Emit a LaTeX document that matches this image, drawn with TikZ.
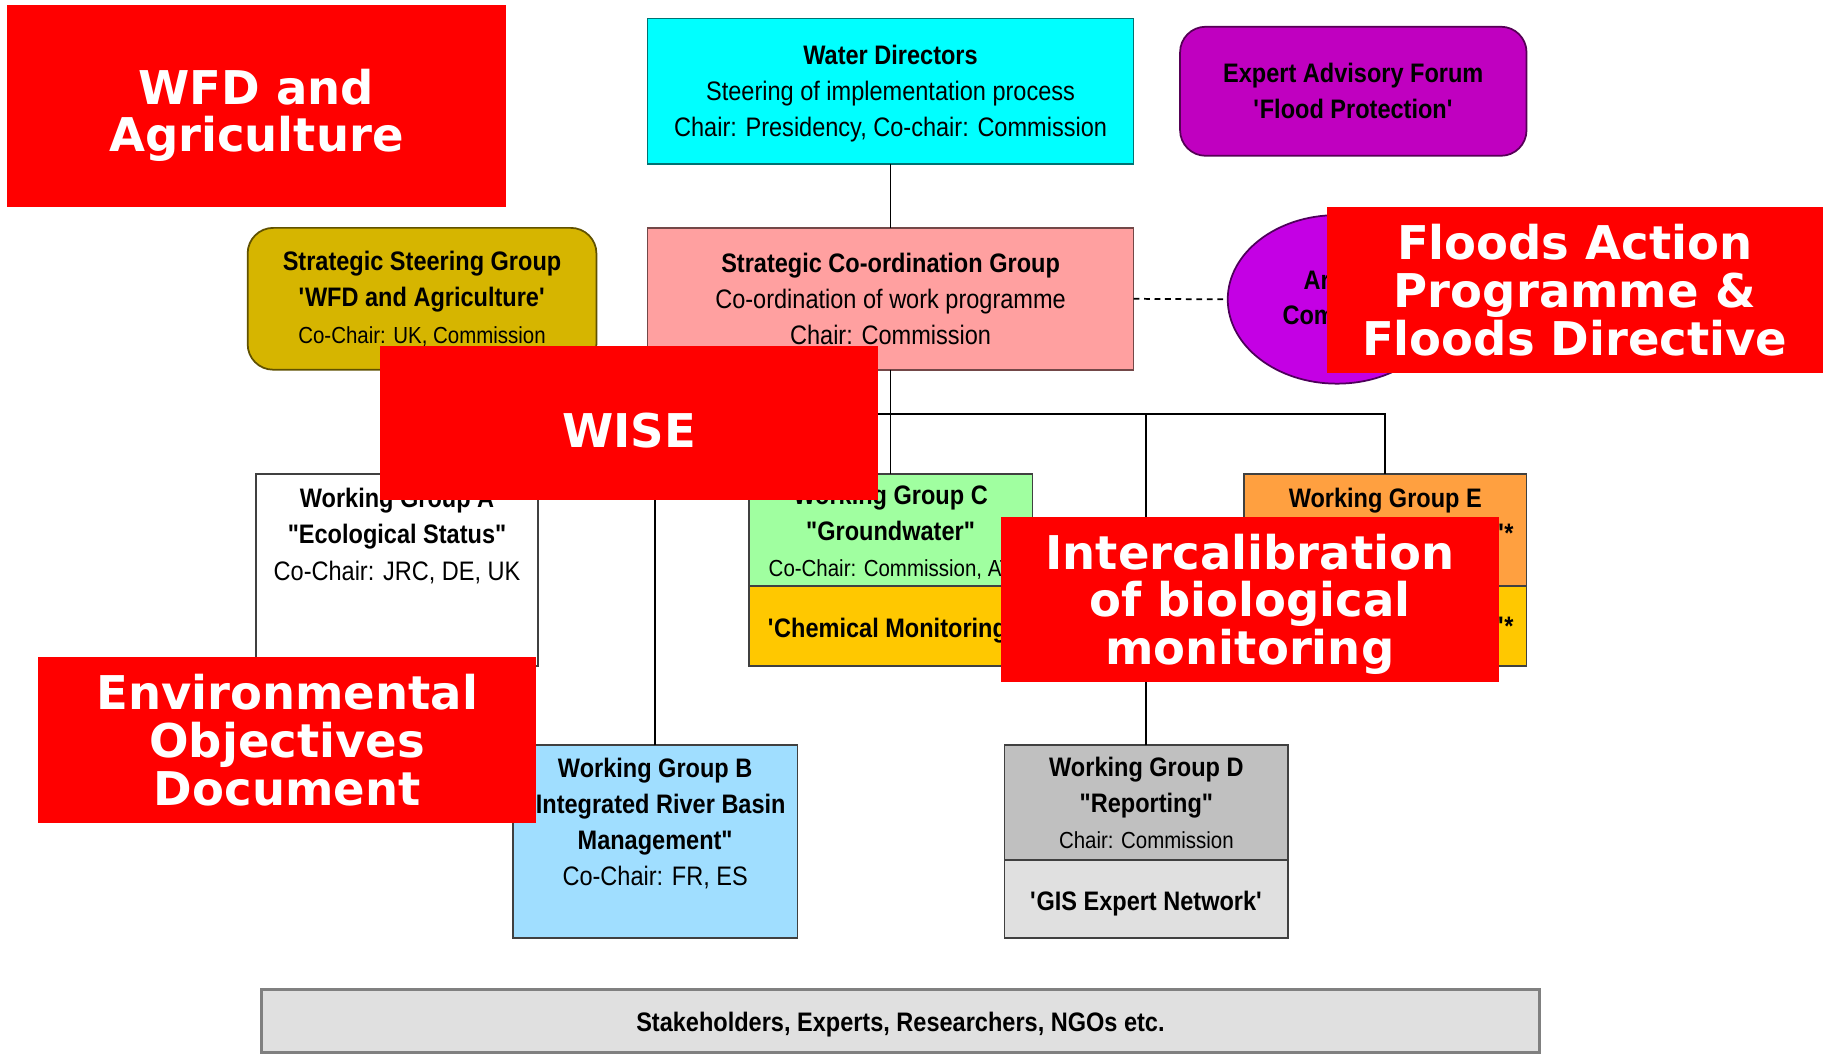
\documentclass[tikz,border=0pt]{standalone}
\usepackage{fontspec}
\usetikzlibrary{positioning,shapes.geometric}

\newfontfamily\grpfamily[FakeStretch=0.88]{Liberation Sans}
\newfontfamily\tagfamily{DejaVu Sans}
\newcommand{\grpfont}{\grpfamily\fontsize{23}{31}\selectfont}
\newcommand{\grpsmall}{\fontsize{20}{31}\selectfont}
\newcommand{\tagfont}{\tagfamily\bfseries\fontsize{40}{41}\selectfont}
\newcommand{\sqm}{\textquotesingle}

\definecolor{wdcyan}{RGB}{0,255,255}
\definecolor{forumpurple}{RGB}{192,0,192}
\definecolor{artviolet}{RGB}{196,0,228}
\definecolor{ssggold}{RGB}{214,181,0}
\definecolor{scgpink}{RGB}{255,160,160}
\definecolor{wgbblue}{RGB}{160,222,255}
\definecolor{wgcgreen}{RGB}{160,255,160}
\definecolor{wgyellow}{RGB}{255,200,0}
\definecolor{wgeorange}{RGB}{255,160,64}
\definecolor{wgdgray}{RGB}{192,192,192}
\definecolor{boxgray}{RGB}{224,224,224}

\tikzset{
  grp/.style={draw=black!75, line width=1.5pt, inner sep=0pt, outer sep=0pt, anchor=north west, align=center, font=\grpfont},
  grptext/.style={inner sep=0pt, align=center, font=\grpfont},
  oneline/.style={text height=19pt, text depth=0pt},
  textdrop/.style={text height=#1, text depth=0pt},
  redtag/.style={fill=red, inner sep=0pt, outer sep=0pt, anchor=north west, align=center, text=white, font=\tagfont},
  wire/.style={line width=1.5pt}
}

\begin{document}
\begin{tikzpicture}[x=1pt,y=-1pt]
\useasboundingbox (0,0) rectangle (1568,907);

% top row
\node[grp, fill=wdcyan, draw=wdcyan!45!black, minimum width=418, minimum height=125, textdrop=78pt] (wd) at (557,16)
  {{\bfseries Water Directors}\\Steering of implementation process\\Chair: Presidency, Co-chair: Commission};
\node[grp, fill=forumpurple, draw=forumpurple!45!black, rounded corners=22pt, minimum width=298, minimum height=111] (eaf) at (1015,23)
  {\bfseries Expert Advisory Forum\\\bfseries \sqm Flood Protection\sqm};

% second row
\node[grp, fill=ssggold, draw=ssggold!45!black, rounded corners=22pt, minimum width=300, minimum height=122] (ssg) at (213,196)
  {{\bfseries Strategic Steering Group}\\{\bfseries \sqm WFD and Agriculture\sqm}\\{\grpsmall Co-Chair: UK, Commission}};
\node[grp, fill=scgpink, draw=scgpink!45!black, minimum width=418, minimum height=122] (scg) at (557,196)
  {{\bfseries Strategic Co-ordination Group}\\Co-ordination of work programme\\Chair: Commission};
\node[ellipse, draw=artviolet!40!black, line width=1.5pt, fill=artviolet, inner sep=0pt, minimum width=188, minimum height=145] (art) at (1150,257.5) {};
\node[grptext, anchor=base west, font=\grpfont\bfseries] (artline) at (1121,249) {Ar};
\node[grptext, anchor=base west, font=\grpfont\bfseries] (artlinetwo) at (1103,279) {Com};

% working groups
\node[grp, fill=white, minimum width=243, minimum height=165] (wga) at (220,408) {};
\node[grptext, below=12pt of wga.north] (wgatext)
  {{\bfseries Working Group A}\\{\bfseries "Ecological Status"}\\Co-Chair: JRC, DE, UK};

\node[grp, fill=wgcgreen, minimum width=244, minimum height=96, textdrop=80.5pt] (wgc) at (644,408)
  {{\bfseries Working Group C}\\{\bfseries "Groundwater"}\\{\grpsmall Co-Chair: Commission, AT}};
\node[grp, oneline, fill=wgyellow, minimum width=244, minimum height=69, below=0pt of wgc] (wgcmon)
  {\bfseries \sqm Chemical Monitoring\sqm};

\node[grp, fill=wgeorange, minimum width=243, minimum height=96] (wge) at (1070,408) {};
\node[grptext, below=12pt of wge.north, font=\grpfont\bfseries] (wgetext) {Working Group E};
\node[grptext, anchor=base east, font=\grpfont\bfseries] (wgetail) at (1302,467) {"*};
\node[grp, fill=wgyellow, minimum width=243, minimum height=69, below=0pt of wge] (wgemon) {};
\node[grptext, anchor=base east, font=\grpfont\bfseries] (wgemontail) at (1302,547) {\sqm*};

\node[grp, fill=wgbblue, minimum width=245, minimum height=166] (wgb) at (441,641) {};
\node[grptext, below=11pt of wgb.north] (wgbtext)
  {{\bfseries Working Group B}\\{\bfseries "Integrated River Basin}\\{\bfseries Management"}\\Co-Chair: FR, ES};

\node[grp, fill=wgdgray, minimum width=244, minimum height=99] (wgd) at (864,641)
  {{\bfseries Working Group D}\\{\bfseries "Reporting"}\\{\grpsmall Chair: Commission}};
\node[grp, oneline, fill=boxgray, minimum width=244, minimum height=67, below=0pt of wgd] (wgdgis)
  {\bfseries \sqm GIS Expert Network\sqm};

\node[grp, oneline, fill=boxgray, draw=gray, line width=2.5pt, minimum width=1099, minimum height=54] (stake) at (225,851)
  {\bfseries Stakeholders, Experts, Researchers, NGOs etc.};

% connectors
\coordinate (bus) at (0,356);
\draw[wire] (wd.south) -- (scg.north);
\draw[wire] (scg.south) -- (wgc.north);
\draw[wire] (wga.north) -- (wga.north |- bus) -| (wge.north);
\draw[wire] (wgb.north) -- (wgb.north |- bus);
\draw[wire] (wgd.north) -- (wgd.north |- bus);
\draw[wire, dash pattern=on 5pt off 4pt] (scg.east) -- (art.west);

% red tags
\node[redtag, minimum width=429, minimum height=174, textdrop=79pt] (wfdagri) at (6,4) {WFD and\\Agriculture};
\node[redtag, minimum width=427, minimum height=143] (floods) at (1141,178) {Floods Action\\Programme \&\\Floods Directive};
\node[redtag, minimum width=428, minimum height=132, textdrop=41pt] (wise) at (327,298) {WISE};
\node[redtag, minimum width=428, minimum height=142, textdrop=111pt] (intercal) at (861,445) {Intercalibration\\of biological\\monitoring};
\node[redtag, minimum width=428, minimum height=143] (envobj) at (33,565) {Environmental\\Objectives\\Document};
\end{tikzpicture}
\end{document}
